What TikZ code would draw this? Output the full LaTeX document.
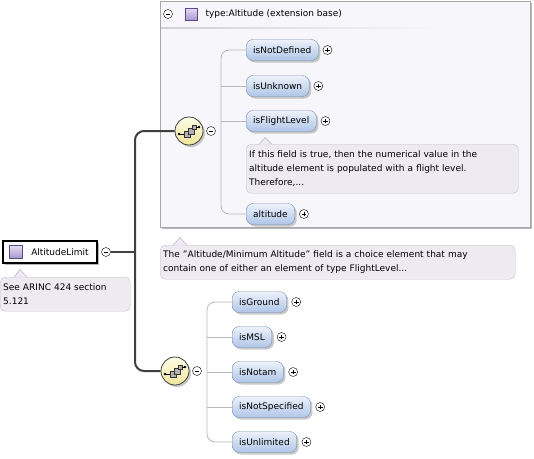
\documentclass[tikz,border=0pt]{standalone}
\usepackage{fontspec}
\setmainfont{DejaVu Sans}
\usetikzlibrary{shadows,calc}
\definecolor{elemtop}{HTML}{EDF2FB}
\definecolor{elembot}{HTML}{AFC5E6}
\definecolor{elemborder}{HTML}{7A8FAE}
\definecolor{annofill}{HTML}{EDEAF2}
\definecolor{annoborder}{HTML}{C5C1CE}
\definecolor{typefill}{HTML}{F7F6FA}
\definecolor{typeborder}{HTML}{A8A8A8}
\definecolor{seqtop}{HTML}{FFFDE8}
\definecolor{seqbot}{HTML}{EEE49A}
\definecolor{icontop}{HTML}{E4DCF4}
\definecolor{iconbot}{HTML}{A898D0}
\definecolor{iconborder}{HTML}{5A4A8A}
\definecolor{trunkc}{HTML}{404040}
\definecolor{branchc}{HTML}{B8B8B8}
\tikzset{
  txt/.style={font=\fontsize{9}{14}\selectfont, text=black},
  elem/.style={txt, draw=elemborder, rounded corners=7pt, top color=elemtop, bottom color=elembot,
    minimum height=21pt, inner xsep=7pt, inner ysep=0pt, anchor=west,
    drop shadow={shadow xshift=2pt, shadow yshift=-2pt, fill=black!35, opacity=0.6}},
  plusc/.style={circle, draw=black, fill=white, minimum size=9pt, inner sep=0pt,
    path picture={\draw[line width=0.6pt] ([xshift=-2.4pt]path picture bounding box.center) -- ([xshift=2.4pt]path picture bounding box.center) ([yshift=-2.4pt]path picture bounding box.center) -- ([yshift=2.4pt]path picture bounding box.center);}},
  minusc/.style={circle, draw=black, fill=white, minimum size=9pt, inner sep=0pt,
    path picture={\draw[line width=0.6pt] ([xshift=-2.4pt]path picture bounding box.center) -- ([xshift=2.4pt]path picture bounding box.center);}},
  anno/.style={txt, draw=annoborder, fill=annofill, rounded corners=5pt, anchor=north west, align=left, inner xsep=3pt, inner ysep=0pt},
  ptr/.style={draw=annoborder, fill=annofill},
  icon/.style={draw=iconborder, top color=icontop, bottom color=iconbot, minimum size=12pt, inner sep=0pt},
  seqc/.style={circle, draw=trunkc, line width=0.8pt, top color=seqtop, bottom color=seqbot, minimum size=28pt, inner sep=0pt,
    drop shadow={shadow xshift=2pt, shadow yshift=-2pt, fill=black!35, opacity=0.6}},
  trunk/.style={draw=trunkc, line width=2pt},
  branch/.style={draw=branchc, line width=0.8pt},
  seqicon/.pic={
    \draw[line width=0.7pt] (-10,3) -- (-5,3);
    \fill (-10,3) circle (1.3pt);
    \draw[fill=gray!60, draw=black!80, line width=0.5pt] (-5,0) rectangle (1,6);
    \draw[fill=gray!60, draw=black!80, line width=0.5pt] (-1,-3) rectangle (5,3);
    \draw[fill=gray!60, draw=black!80, line width=0.5pt] (3,-6) rectangle (7,-2);
    \draw[line width=0.7pt] (7,-4) -- (10,-4);
    \fill (10,-4) circle (1.3pt);
  }
}
\begin{document}
\begin{tikzpicture}[x=1pt,y=-1pt]
\useasboundingbox[fill=white] (0,0) rectangle (534,458);

% type container
\node[draw=typeborder, line width=1pt, fill=typefill, minimum width=370pt, minimum height=226pt, anchor=north west, inner sep=0pt,
  drop shadow={shadow xshift=1.5pt, shadow yshift=-1.5pt, fill=black!40, opacity=0.7}] (tbox) at (160,1) {};
\node[minusc] (tbm) at (168,14) {};
\node[icon] (tbi) at (191,14) {};
\node[txt, anchor=west] (tbt) at (202,14) {type:Altitude (extension base)};
\shade[left color=black!18, right color=typefill] (161,27.5) rectangle (442,28.5);

% group 1
\node[elem] (nd) at (246,50) {isNotDefined};
\node[elem] (unk) at (246,86) {isUnknown};
\node[elem] (fl) at (246,121) {isFlightLevel};
\node[elem] (alt) at (246,214) {altitude};
\node[plusc] (ndp) at ([xshift=9pt]nd.east) {};
\node[plusc] (unkp) at ([xshift=9pt]unk.east) {};
\node[plusc] (flp) at ([xshift=9pt]fl.east) {};
\node[plusc] (altp) at ([xshift=9pt]alt.east) {};
\coordinate (v1b) at (221,214);
\draw[branch, rounded corners=8pt] (nd.west) -| (v1b) -- (alt.west);
\draw[branch] (unk.west) -- (unk.west -| v1b);
\draw[branch] (fl.west) -- (fl.west -| v1b);

\node[anno, text width=266pt, minimum height=49pt] (afl) at (246,144) {If this field is true, then the numerical value in the\\altitude element is populated with a flight level.\\Therefore,...};
\path[ptr] (259,144.6) -- (265,137.5) -- (272,144.6);
\draw[annoborder] (259,144) -- (265,137.5) -- (272,144);

\node[seqc] (s1) at (189,131) {};
\pic at (s1) {seqicon};
\node[minusc] (s1m) at (211,131) {};

% annotation of type
\node[anno, text width=349pt, minimum height=34pt] (atype) at (160,245) {The "Altitude/Minimum Altitude" field is a choice element that may\\contain one of either an element of type FlightLevel...};
\path[ptr] (173,245.6) -- (180,237.5) -- (187,245.6);
\draw[annoborder] (173,245) -- (180,237.5) -- (187,245);

% root
\node[txt, draw=black, line width=1.2pt, fill=white, minimum width=94pt, minimum height=22pt, inner sep=0pt,
  drop shadow={shadow xshift=2pt, shadow yshift=-2pt, fill=black!40, opacity=0.7}] (root) at (50,252) {\hspace*{20pt}AltitudeLimit};
\node[icon, minimum size=13pt] (ri) at (15.5,252) {};
\node[minusc] (rm) at (106,252) {};
\node[anno, text width=124pt, minimum height=34pt] (aroot) at (0,277) {See ARINC 424 section\\5.121};
\path[ptr] (14,277.6) -- (20,269.5) -- (27,277.6);
\draw[annoborder] (14,277) -- (20,269.5) -- (27,277);

% group 2
\node[seqc] (s2) at (175,371) {};
\pic at (s2) {seqicon};
\node[minusc] (s2m) at (197,371) {};
\node[elem] (gr) at (232,302) {isGround};
\node[elem] (msl) at (232,337) {isMSL};
\node[elem] (ntm) at (232,372) {isNotam};
\node[elem] (nsp) at (232,407) {isNotSpecified};
\node[elem] (unl) at (232,442) {isUnlimited};
\node[plusc] (grp) at ([xshift=9.5pt]gr.east) {};
\node[plusc] (mslp) at ([xshift=9.5pt]msl.east) {};
\node[plusc] (ntmp) at ([xshift=9.5pt]ntm.east) {};
\node[plusc] (nspp) at ([xshift=9.5pt]nsp.east) {};
\node[plusc] (unlp) at ([xshift=9.5pt]unl.east) {};
\coordinate (v2b) at (207,442);
\draw[branch, rounded corners=8pt] (gr.west) -| (v2b) -- (unl.west);
\draw[branch] (msl.west) -- (msl.west -| v2b);
\draw[branch] (ntm.west) -- (ntm.west -| v2b);
\draw[branch] (nsp.west) -- (nsp.west -| v2b);

% trunk
\coordinate (tj) at (135,252);
\draw[trunk] (rm.east) -- (tj);
\draw[trunk, rounded corners=9pt] (s1.west) -| (tj) |- (s2.west);
\end{tikzpicture}
\end{document}
